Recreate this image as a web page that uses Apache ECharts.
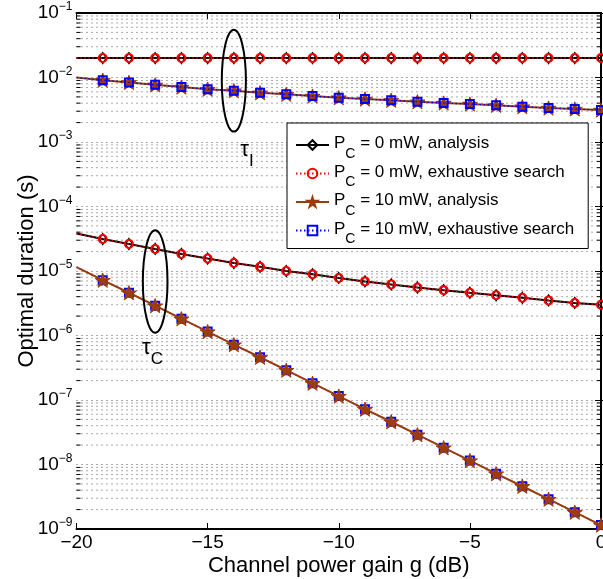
<!DOCTYPE html>
<html>
<head>
<meta charset="utf-8">
<script src="https://cdn.jsdelivr.net/npm/echarts@6/dist/echarts.min.js"></script>
<style>
  html, body { margin: 0; padding: 0; background: #ffffff; }
  #chart { width: 603px; height: 579px; }
</style>
</head>
<body>
<div id="chart"></div>
<script>
// Channel power gain (dB)
const gainDb = [-20, -19, -18, -17, -16, -15, -14, -13, -12, -11, -10,
                -9, -8, -7, -6, -5, -4, -3, -2, -1, 0];

// tau_I : optimal information-transfer duration (s)
const tauI_P0_analysis = [0.0200, 0.0200, 0.0200, 0.0200, 0.0200, 0.0200, 0.0200,
  0.0200, 0.0200, 0.0200, 0.0200, 0.0200, 0.0200, 0.0200, 0.0200, 0.0200,
  0.0200, 0.0200, 0.0200, 0.0200, 0.0200];
const tauI_P0_search = [0.0200, 0.0200, 0.0200, 0.0200, 0.0200, 0.0200, 0.0200,
  0.0200, 0.0200, 0.0200, 0.0200, 0.0200, 0.0200, 0.0200, 0.0200, 0.0200,
  0.0200, 0.0200, 0.0200, 0.0200, 0.0200];
const tauI_P10_analysis = [1.0e-2, 9.1e-3, 8.4e-3, 7.7e-3, 7.1e-3, 6.6e-3, 6.25e-3,
  5.8e-3, 5.5e-3, 5.16e-3, 4.86e-3, 4.64e-3, 4.43e-3, 4.21e-3, 4.02e-3, 3.88e-3,
  3.70e-3, 3.53e-3, 3.36e-3, 3.25e-3, 3.13e-3];
const tauI_P10_search = [1.0e-2, 9.1e-3, 8.4e-3, 7.7e-3, 7.1e-3, 6.6e-3, 6.25e-3,
  5.8e-3, 5.5e-3, 5.16e-3, 4.86e-3, 4.64e-3, 4.43e-3, 4.21e-3, 4.02e-3, 3.88e-3,
  3.70e-3, 3.53e-3, 3.36e-3, 3.25e-3, 3.13e-3];

// tau_C : optimal channel-estimation duration (s)
const tauC_P0_analysis = [3.8e-5, 3.13e-5, 2.62e-5, 2.2e-5, 1.84e-5, 1.56e-5, 1.33e-5,
  1.16e-5, 1.0e-5, 8.9e-6, 7.8e-6, 6.9e-6, 6.2e-6, 5.55e-6, 5.05e-6, 4.6e-6,
  4.2e-6, 3.85e-6, 3.5e-6, 3.2e-6, 3.0e-6];
const tauC_P0_search = [3.8e-5, 3.13e-5, 2.62e-5, 2.2e-5, 1.84e-5, 1.56e-5, 1.33e-5,
  1.16e-5, 1.0e-5, 8.9e-6, 7.8e-6, 6.9e-6, 6.2e-6, 5.55e-6, 5.05e-6, 4.6e-6,
  4.2e-6, 3.85e-6, 3.5e-6, 3.2e-6, 3.0e-6];
const tauC_P10_analysis = [1.15e-5, 7.2e-6, 4.6e-6, 2.9e-6, 1.82e-6, 1.15e-6, 7.2e-7,
  4.6e-7, 2.9e-7, 1.82e-7, 1.15e-7, 7.2e-8, 4.6e-8, 2.9e-8, 1.82e-8, 1.15e-8,
  7.2e-9, 4.6e-9, 2.9e-9, 1.82e-9, 1.15e-9];
const tauC_P10_search = [1.15e-5, 7.2e-6, 4.6e-6, 2.9e-6, 1.82e-6, 1.15e-6, 7.2e-7,
  4.6e-7, 2.9e-7, 1.82e-7, 1.15e-7, 7.2e-8, 4.6e-8, 2.9e-8, 1.82e-8, 1.15e-8,
  7.2e-9, 4.6e-9, 2.9e-9, 1.82e-9, 1.15e-9];

// Legend entries
const legendNames = [
  'P_C = 0 mW, analysis',
  'P_C = 0 mW, exhaustive search',
  'P_C = 10 mW, analysis',
  'P_C = 10 mW, exhaustive search'
];

// Axis ranges and ticks
const xMin = -20, xMax = 0, xStep = 5;
const yMinExp = -9, yMaxExp = -1;
const minorMultipliers = [2, 3, 4, 5, 6, 7, 8, 9];

const FONT = '"Liberation Sans", Arial, Helvetica, sans-serif';
const BROWN = '#9c3b0c';
const STAR = 'path://M50 0 L61.23 34.55 L97.55 34.55 L68.17 55.9 L79.39 90.45 L50 69.1 L20.61 90.45 L31.83 55.9 L2.45 34.55 L38.77 34.55 Z';

const minorVals = [];
for (let e = yMinExp; e < yMaxExp; e++) {
  minorMultipliers.forEach(m => minorVals.push(m * Math.pow(10, e)));
}

function pairs(values) {
  // first point (-20 dB) carries the line but no marker
  return gainDb.map((g, i) => i === 0 ? { value: [g, values[i]], symbol: 'none' } : [g, values[i]]);
}

const styles = {
  'P_C = 0 mW, analysis': {
    symbol: 'diamond', symbolSize: [7, 11],
    lineStyle: { color: '#000000', width: 2, type: 'solid' },
    itemStyle: { color: 'rgba(0,0,0,0)', borderColor: '#000000', borderWidth: 1.3 }
  },
  'P_C = 0 mW, exhaustive search': {
    symbol: 'circle', symbolSize: 8,
    lineStyle: { color: '#ff0000', width: 1.3, type: [1.5, 2.5] },
    itemStyle: { color: 'rgba(255,255,255,0)', borderColor: '#ff0000', borderWidth: 2 }
  },
  'P_C = 10 mW, analysis': {
    symbol: STAR, symbolSize: 15, symbolKeepAspect: true,
    lineStyle: { color: BROWN, width: 2, type: 'solid' },
    itemStyle: { color: BROWN, borderColor: BROWN, borderWidth: 1 }
  },
  'P_C = 10 mW, exhaustive search': {
    symbol: 'rect', symbolSize: 8,
    lineStyle: { color: '#0000ff', width: 1.3, type: [1.5, 2.5] },
    itemStyle: { color: 'rgba(255,255,255,0)', borderColor: '#0000ff', borderWidth: 2 }
  }
};

function lineSeries(name, values, z) {
  const s = styles[name];
  return Object.assign({
    type: 'line',
    name: name,
    data: pairs(values),
    showSymbol: true,
    showAllSymbol: true,
    z: z,
    animation: false,
    emphasis: { disabled: true }
  }, JSON.parse(JSON.stringify(s)));
}

// Minor log gridlines with inward ticks on both sides
const minorGrid = {
  type: 'custom',
  name: 'minor-grid',
  silent: true,
  z: 1,
  animation: false,
  clip: false,
  data: minorVals.map(v => [xMin, v]),
  encode: { x: 0, y: 1 },
  renderItem: function (params, api) {
    const v = api.value(1);
    const a = api.coord([xMin, v]);
    const b = api.coord([xMax, v]);
    return {
      type: 'group',
      children: [
        { type: 'line', shape: { x1: a[0], y1: a[1], x2: b[0], y2: b[1] },
          style: { stroke: '#555555', lineWidth: 1, lineDash: [1, 4] } },
        { type: 'line', shape: { x1: a[0], y1: a[1], x2: a[0] + 4, y2: a[1] },
          style: { stroke: '#000000', lineWidth: 1 } },
        { type: 'line', shape: { x1: b[0] - 4, y1: b[1], x2: b[0], y2: b[1] },
          style: { stroke: '#000000', lineWidth: 1 } }
      ]
    };
  }
};

function expLabel(v) {
  const e = Math.round(Math.log10(v));
  return '{b|10}{s|' + (e < 0 ? '\u2212' + (-e) : e) + '}';
}

function legendLabel(name) {
  const rest = name.replace('P_C', '');
  return '{p|P}{c|C}{t|' + rest + '}';
}

const axisLineStyle = { show: true, lineStyle: { color: '#000000', width: 2 } };

const option = {
  backgroundColor: '#ffffff',
  animation: false,
  textStyle: { fontFamily: FONT },
  grid: { left: 76.5, right: 2, top: 13, bottom: 50, containLabel: false, outerBoundsMode: 'none' },
  xAxis: [
    {
      type: 'value', min: xMin, max: xMax, interval: xStep, position: 'bottom',
      name: 'Channel power gain g (dB)', nameLocation: 'middle', nameGap: 26,
      nameMoveOverlap: false,
      nameTextStyle: { fontFamily: FONT, fontSize: 22, color: '#000000' },
      axisLine: axisLineStyle,
      axisTick: { show: true, inside: true, length: 6, lineStyle: { color: '#000000', width: 1 } },
      axisLabel: { fontFamily: FONT, fontSize: 19, color: '#000000', margin: 4,
        formatter: v => (v < 0 ? '\u2212' + (-v) : String(v)) },
      splitLine: { show: false }
    },
    {
      type: 'value', min: xMin, max: xMax, interval: xStep, position: 'top',
      axisLine: axisLineStyle,
      axisTick: { show: true, inside: true, length: 6, lineStyle: { color: '#000000', width: 1 } },
      axisLabel: { show: false },
      splitLine: { show: false }
    }
  ],
  yAxis: [
    {
      type: 'log', logBase: 10, min: Math.pow(10, yMinExp), max: Math.pow(10, yMaxExp),
      splitNumber: 8, position: 'left',
      name: 'Optimal duration (s)', nameLocation: 'middle', nameGap: 39, nameRotate: 90,
      nameMoveOverlap: false,
      nameTextStyle: { fontFamily: FONT, fontSize: 22, color: '#000000' },
      axisLine: axisLineStyle,
      axisTick: { show: true, inside: true, length: 6, lineStyle: { color: '#000000', width: 1 } },
      axisLabel: {
        margin: 4, color: '#000000', formatter: expLabel,
        rich: {
          b: { fontFamily: FONT, fontSize: 19, lineHeight: 24, color: '#000000' },
          s: { fontFamily: FONT, fontSize: 12, lineHeight: 8, verticalAlign: 'top', color: '#000000' }
        }
      },
      splitLine: { show: true, lineStyle: { color: '#555555', width: 1, type: [1, 4] } }
    },
    {
      type: 'log', logBase: 10, min: Math.pow(10, yMinExp), max: Math.pow(10, yMaxExp),
      splitNumber: 8, position: 'right',
      axisLine: axisLineStyle,
      axisTick: { show: true, inside: true, length: 6, lineStyle: { color: '#000000', width: 1 } },
      axisLabel: { show: false },
      splitLine: { show: false }
    }
  ],
  legend: {
    data: legendNames,
    orient: 'vertical',
    left: 287, top: 123,
    padding: [12, 14, 2, 8],
    itemGap: 2.5,
    itemWidth: 33, itemHeight: 12,
    backgroundColor: '#ffffff',
    borderColor: '#000000', borderWidth: 1, borderRadius: 0,
    selectedMode: false,
    formatter: legendLabel,
    textStyle: {
      rich: {
        p: { fontFamily: FONT, fontSize: 17, lineHeight: 20, verticalAlign: 'top', color: '#000000' },
        c: { fontFamily: FONT, fontSize: 14, lineHeight: 12, padding: [12, 0, 0, 0], verticalAlign: 'top', color: '#000000' },
        t: { fontFamily: FONT, fontSize: 17, lineHeight: 20, verticalAlign: 'top', color: '#000000' }
      }
    }
  },
  series: [
    minorGrid,
    lineSeries('P_C = 10 mW, analysis', tauI_P10_analysis, 3),
    lineSeries('P_C = 10 mW, exhaustive search', tauI_P10_search, 4),
    lineSeries('P_C = 10 mW, exhaustive search', tauC_P10_search, 3),
    lineSeries('P_C = 10 mW, analysis', tauC_P10_analysis, 4),
    lineSeries('P_C = 0 mW, analysis', tauI_P0_analysis, 5),
    lineSeries('P_C = 0 mW, exhaustive search', tauI_P0_search, 6),
    lineSeries('P_C = 0 mW, analysis', tauC_P0_analysis, 5),
    lineSeries('P_C = 0 mW, exhaustive search', tauC_P0_search, 6)
  ]
};

const chart = echarts.init(document.getElementById('chart'), null, { renderer: 'canvas' });
chart.setOption(option);

// Ellipses grouping the tau_I and tau_C curves, with their labels
const groups = [
  { cx: -14.0, halfWidth: 0.46, yTop: 5.5e-2, yBottom: 1.45e-3, labelX: -13.5, labelY: 7.5e-4, sub: 'I' },
  { cx: -17.0, halfWidth: 0.47, yTop: 4.3e-5, yBottom: 1.1e-6, labelX: -17.1, labelY: 6.4e-7, sub: 'C' }
];

function toPx(x, y) {
  return chart.convertToPixel({ xAxisIndex: 0, yAxisIndex: 0 }, [x, y]);
}

const graphics = [];
groups.forEach(g => {
  const top = toPx(g.cx, g.yTop);
  const bottom = toPx(g.cx, g.yBottom);
  const left = toPx(g.cx - g.halfWidth, g.yTop);
  graphics.push({
    type: 'ellipse',
    shape: { cx: top[0], cy: (top[1] + bottom[1]) / 2, rx: top[0] - left[0], ry: (bottom[1] - top[1]) / 2 },
    style: { fill: 'none', stroke: '#000000', lineWidth: 2 },
    z: 10, silent: true
  });
  const lp = toPx(g.labelX, g.labelY);
  graphics.push({
    type: 'text',
    x: lp[0], y: lp[1],
    style: {
      text: '{t|\u03c4}{s|' + g.sub + '}',
      align: 'center', verticalAlign: 'middle',
      rich: {
        t: { fontFamily: FONT, fontSize: 22, lineHeight: 22, verticalAlign: 'top', fill: '#000000' },
        s: { fontFamily: FONT, fontSize: 17, lineHeight: 14, padding: [14, 0, 0, 0], verticalAlign: 'top', fill: '#000000' }
      }
    },
    z: 10, silent: true
  });
});
chart.setOption({ graphic: graphics });
</script>
</body>
</html>
